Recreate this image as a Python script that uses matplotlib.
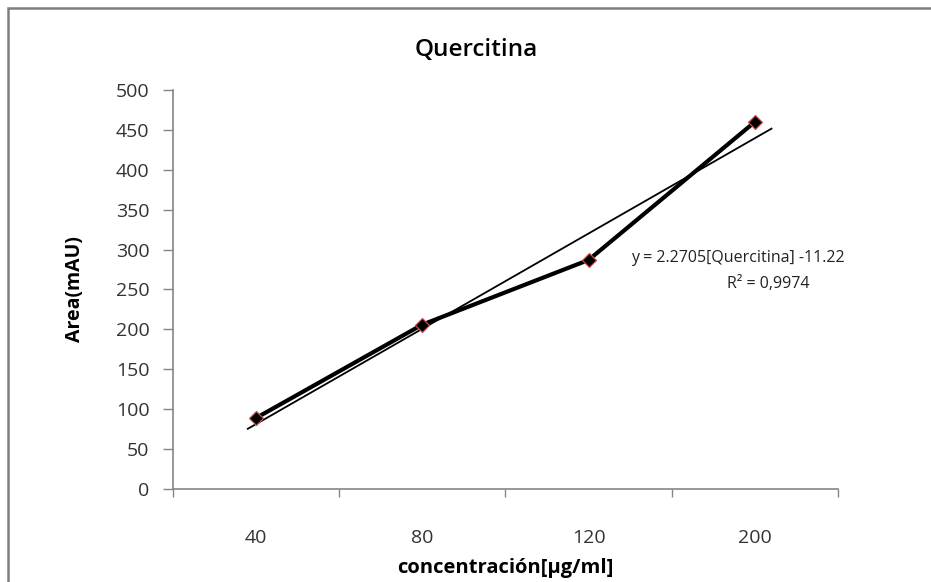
import numpy as np
import matplotlib.pyplot as plt
from matplotlib.patches import Rectangle

# Data
categories = ["40", "80", "120", "200"]
area = [89, 206, 287, 460]
equation = "y = 2.2705[Quercitina] -11.22"
r2_text = "R\u00b2 = 0,9974"

plt.rcParams['font.family'] = ['Open Sans', 'DejaVu Sans']

fig = plt.figure(figsize=(9.31, 5.82), dpi=100)
ax = fig.add_axes([0.1858, 0.1598, 0.7143, 0.6856])

x = np.arange(1, len(categories) + 1)
ax.plot(x, area, color='black', lw=3.0, marker='D', ms=7,
        mfc='black', mec='#c0504d', mew=0.9, zorder=3)

# linear trendline over category index
slope, intercept = np.polyfit(x, area, 1)
xt = np.array([0.95, 4.1])
ax.plot(xt, slope * xt + intercept, color='black', lw=1.3, zorder=2)

ax.set_xlim(0.5, 4.5)
ax.set_ylim(0, 500)
ax.set_yticks(np.arange(0, 501, 50))
ax.set_xticks(x)
ax.set_xticklabels(categories)
ax.set_xticks(np.arange(0.5, 4.6, 1), minor=True)

for s in ['top', 'right']:
    ax.spines[s].set_visible(False)
for s in ['left', 'bottom']:
    ax.spines[s].set_color('#868686')
    ax.spines[s].set_linewidth(1.2)

ax.tick_params(axis='y', direction='out', length=7, width=1, color='#868686',
               labelsize=14, labelcolor='#333333', pad=10)
ax.tick_params(axis='x', which='major', length=0, labelsize=14,
               labelcolor='#333333', pad=29)
ax.tick_params(axis='x', which='minor', direction='out', length=6, width=1,
               color='#868686')

ax.set_ylabel("Area(mAU)", fontsize=14, fontweight='bold', labelpad=22)
ax.set_xlabel("concentración[µg/ml]", fontsize=14.5, fontweight='bold', labelpad=8)
fig.suptitle("Quercitina", x=0.512, y=0.935, fontsize=17.5, fontweight='semibold')

ax.text(0.85, 0.58, equation, transform=ax.transAxes, ha='center', va='center',
        fontsize=11.5, color='#222222')
ax.text(0.895, 0.513, r2_text, transform=ax.transAxes, ha='center', va='center',
        fontsize=11.5, color='#222222')

# outer chart border (cut at right and bottom, as in the source)
fig.patches.append(Rectangle((0.0085, -0.1), 1.2, 1.087, transform=fig.transFigure,
                             fill=False, edgecolor='#7f7f7f', lw=1.8))

fig.savefig("out.png", dpi=100)
